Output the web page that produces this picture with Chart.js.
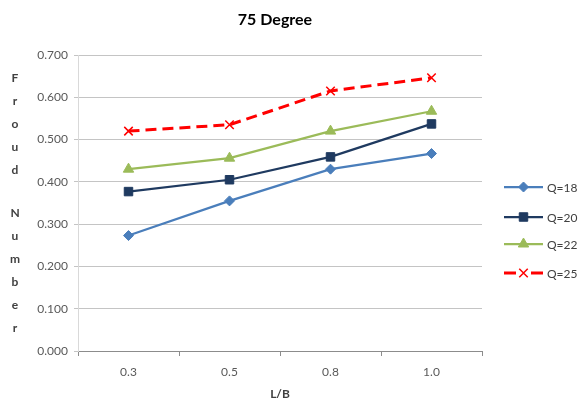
<!DOCTYPE html>
<html>
<head>
<meta charset="utf-8">
<script src="https://cdn.jsdelivr.net/npm/chart.js@4.4.1/dist/chart.umd.min.js"></script>
<style>
html,body{margin:0;padding:0;background:#fff;}
#wrap{width:584px;height:400px;position:relative;}
</style>
</head>
<body>
<div id="wrap"><canvas id="c" width="584" height="400"></canvas></div>
<script>
const categories = ["0.3", "0.5", "0.8", "1.0"];
const seriesNames = ["Q=18", "Q=20", "Q=22", "Q=25"];
const q18 = [0.273, 0.355, 0.430, 0.467];
const q20 = [0.377, 0.405, 0.459, 0.537];
const q22 = [0.430, 0.456, 0.520, 0.567];
const q25 = [0.520, 0.535, 0.615, 0.646];
const yTicks = [0, 0.1, 0.2, 0.3, 0.4, 0.5, 0.6, 0.7];
const chartTitle = "75 Degree";
const xTitle = "L/B";
const yTitle = "Froud Number";

const FONT = "Lato, 'Open Sans', sans-serif";

const customText = {
  id: 'customText',
  afterDraw(chart) {
    const ctx = chart.ctx;
    const area = chart.chartArea;
    ctx.save();
    // title
    ctx.fillStyle = '#000';
    ctx.font = "bold 16px " + FONT;
    ctx.textAlign = 'center';
    ctx.textBaseline = 'middle';
    ctx.fillText(chartTitle, 275, 20);
    // x title
    ctx.fillStyle = '#404040';
    ctx.font = "bold 12px " + FONT;
    ctx.fillText(xTitle, (area.left + area.right) / 2, 394);
    // y title, stacked letters
    let y = 78;
    for (const ch of yTitle) {
      if (ch === ' ') { y += 20; continue; }
      ctx.fillText(ch, 15, y);
      y += 23;
    }
    // legend
    const rows = [187, 217, 244, 273];
    chart.data.datasets.forEach((ds, i) => {
      const ly = rows[i];
      ctx.save();
      ctx.strokeStyle = ds.borderColor;
      ctx.lineWidth = ds.borderWidth;
      ctx.setLineDash(ds.borderDash || []);
      ctx.beginPath();
      if (ds.borderDash) {
        ctx.setLineDash([]);
        ctx.moveTo(504, ly); ctx.lineTo(516, ly);
        ctx.moveTo(531, ly); ctx.lineTo(543, ly);
      } else {
        ctx.moveTo(504, ly);
        ctx.lineTo(543, ly);
      }
      ctx.stroke();
      ctx.restore();
      ctx.save();
      ctx.fillStyle = ds.backgroundColor;
      ctx.strokeStyle = ds.borderColor;
      ctx.lineWidth = ds.pointBorderWidth || 1;
      ctx.setLineDash([]);
      Chart.helpers.drawPoint(ctx, {
        pointStyle: ds.pointStyle,
        radius: ds.pointRadius,
        borderWidth: ds.pointBorderWidth || 1,
        rotation: 0
      }, 523.5, ly);
      ctx.restore();
      ctx.fillStyle = '#404040';
      ctx.font = "12px " + FONT;
      ctx.textAlign = 'left';
      ctx.textBaseline = 'middle';
      ctx.fillText(ds.label, 547, ly + 1);
    });
    ctx.restore();
  }
};

new Chart(document.getElementById('c'), {
  type: 'line',
  data: {
    labels: categories,
    datasets: [
      { label: seriesNames[0], data: q18, borderColor: '#4a7ebb', backgroundColor: '#4a7ebb', borderWidth: 2.25, pointStyle: 'rectRot', pointRadius: 5, pointBorderWidth: 1 },
      { label: seriesNames[1], data: q20, borderColor: '#1f3a60', backgroundColor: '#1f3a60', borderWidth: 2.25, pointStyle: 'rect', pointRadius: 6, pointBorderWidth: 1 },
      { label: seriesNames[2], data: q22, borderColor: '#9bbb59', backgroundColor: '#9bbb59', borderWidth: 2.25, pointStyle: 'triangle', pointRadius: 6, pointBorderWidth: 1 },
      { label: seriesNames[3], data: q25, borderColor: '#ff0000', backgroundColor: '#ff0000', borderWidth: 3, borderDash: [11, 6], pointStyle: 'crossRot', pointRadius: 6, pointBorderWidth: 1.5 }
    ]
  },
  options: {
    responsive: false,
    animation: false,
    layout: { padding: { left: 0, right: 102, top: 55, bottom: 19 } },
    plugins: { legend: { display: false }, title: { display: false }, tooltip: { enabled: false } },
    scales: {
      x: {
        type: 'category',
        offset: true,
        grid: { offset: true, drawOnChartArea: false, drawTicks: true, tickLength: 5, color: '#8c8c8c' },
        border: { color: '#8c8c8c', width: 1 },
        ticks: { color: '#595959', font: { family: FONT, size: 12 }, padding: 9 },
        afterFit(s) { s.height = 30; }
      },
      y: {
        min: 0, max: 0.7,
        afterBuildTicks(s) { s.ticks = yTicks.map(v => ({ value: v })); },
        grid: { color: '#c4c4c4', tickLength: 4, drawTicks: true },
        border: { color: '#d9d9d9', width: 1 },
        ticks: { color: '#595959', font: { family: FONT, size: 12 }, padding: 6, callback: v => Number(v).toFixed(3) },
        afterFit(s) { s.width = 78; }
      }
    }
  },
  plugins: [customText]
});
</script>
</body>
</html>
